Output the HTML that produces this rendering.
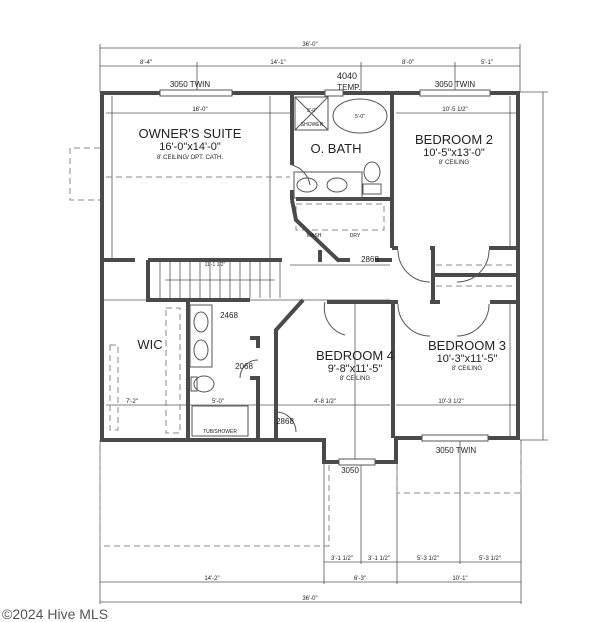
<!DOCTYPE html>
<html><head><style>
html,body{margin:0;padding:0;background:#fff;width:600px;height:622px;overflow:hidden}
svg{display:block}
text{font-family:"Liberation Sans",sans-serif;fill:#222}
</style></head><body>
<svg width="600" height="622" viewBox="0 0 600 622">
<g stroke="#555" stroke-width="0.8" fill="none">
<line x1="100" y1="48" x2="520" y2="48"/>
<line x1="100" y1="66" x2="520" y2="66"/>
<line x1="100" y1="44" x2="100" y2="92"/>
<line x1="520" y1="44" x2="520" y2="92"/>
<line x1="197" y1="62" x2="197" y2="92"/>
<line x1="361" y1="62" x2="361" y2="92"/>
<line x1="455" y1="62" x2="455" y2="92"/>
<line x1="543" y1="92" x2="543" y2="440"/>
<line x1="520" y1="92" x2="548" y2="92"/>
<line x1="520" y1="440" x2="548" y2="440"/>
<line x1="100" y1="440" x2="100" y2="604"/>
<line x1="324" y1="462" x2="324" y2="584"/>
<line x1="361" y1="462" x2="361" y2="564"/>
<line x1="397" y1="440" x2="397" y2="584"/>
<line x1="460" y1="440" x2="460" y2="564"/>
<line x1="521" y1="440" x2="521" y2="604"/>
<line x1="324" y1="562" x2="521" y2="562"/>
<line x1="100" y1="582" x2="521" y2="582"/>
<line x1="100" y1="602" x2="521" y2="602"/>
<line x1="106" y1="113" x2="290" y2="113"/>
<line x1="112" y1="96" x2="112" y2="258"/>
<line x1="270" y1="96" x2="270" y2="258"/>
<line x1="396" y1="113" x2="516" y2="113"/>
<line x1="510" y1="96" x2="510" y2="246"/>
<line x1="106" y1="405" x2="390" y2="405"/>
<line x1="396" y1="405" x2="516" y2="405"/>
<line x1="510" y1="304" x2="510" y2="436"/>
<line x1="355" y1="304" x2="355" y2="460"/>
<line x1="290" y1="265" x2="390" y2="265"/>
<line x1="290" y1="300" x2="390" y2="300"/>
<line x1="100" y1="300" x2="290" y2="300"/>
</g>
<g stroke="#888" stroke-width="1" fill="none" stroke-dasharray="6,4">
<path d="M100 440 V546 H329 V462"/>
<path d="M397 440 V493 H521 V440"/>
<path d="M100 148 H70 V200 H100"/>
<line x1="106" y1="177" x2="290" y2="177"/>
<rect x="166" y="308" width="14" height="125"/>
<rect x="110" y="345" width="8" height="85"/>
<line x1="436" y1="265" x2="514" y2="265"/>
<line x1="436" y1="286" x2="514" y2="286"/>
<rect x="296" y="204" width="88" height="26"/>
</g>
<g stroke="#4a4a4a" stroke-width="4" fill="none" stroke-linejoin="miter">
<path d="M160 93 H102 V440 H324 V462 H396 V438 H518 V93 H490"/>
<path d="M232 93 H325"/>
<path d="M343 93 H420"/>
<line x1="292" y1="93" x2="292" y2="165"/>
<line x1="292" y1="190" x2="292" y2="200"/>
<path d="M292 200 L296 220 L338 260 H350"/>
<line x1="296" y1="199" x2="392" y2="199"/>
<line x1="392" y1="93" x2="392" y2="248"/>
<line x1="375" y1="260" x2="392" y2="260"/>
<line x1="392" y1="248" x2="398" y2="248"/>
<line x1="430" y1="248" x2="435" y2="248"/>
<line x1="489" y1="248" x2="518" y2="248"/>
<line x1="433" y1="248" x2="433" y2="302"/>
<line x1="433" y1="275" x2="518" y2="275"/>
<line x1="430" y1="302" x2="440" y2="302"/>
<line x1="490" y1="302" x2="518" y2="302"/>
<line x1="327" y1="302" x2="398" y2="302"/>
<line x1="393" y1="302" x2="393" y2="438"/>
<line x1="102" y1="260" x2="135" y2="260"/>
<line x1="148" y1="260" x2="282" y2="260"/>
<path d="M148 260 V300 H250"/>
<line x1="188" y1="300" x2="188" y2="440"/>
<path d="M250 338 H258 V348"/>
<path d="M250 378 H258 V440"/>
<path d="M276 440 L276 330 L303 300"/>
<line x1="320" y1="250" x2="320" y2="262"/>
</g>
<g fill="#fff" stroke="#555" stroke-width="1">
<rect x="160" y="90" width="72" height="6"/>
<rect x="325" y="90" width="18" height="6"/>
<rect x="420" y="90" width="70" height="6"/>
<rect x="422" y="435" width="66" height="6"/>
<rect x="339" y="459" width="36" height="6"/>
</g>
<g stroke="#555" stroke-width="0.8">
<line x1="160" y1="262" x2="160" y2="298"/><line x1="170" y1="262" x2="170" y2="298"/>
<line x1="180" y1="262" x2="180" y2="298"/><line x1="190" y1="262" x2="190" y2="298"/>
<line x1="200" y1="262" x2="200" y2="298"/><line x1="210" y1="262" x2="210" y2="298"/>
<line x1="220" y1="262" x2="220" y2="298"/><line x1="230" y1="262" x2="230" y2="298"/>
<line x1="240" y1="262" x2="240" y2="298"/><line x1="250" y1="262" x2="250" y2="298"/>
<line x1="260" y1="262" x2="260" y2="298"/><line x1="270" y1="262" x2="270" y2="298"/>
<line x1="280" y1="262" x2="280" y2="298"/>
<line x1="165" y1="280" x2="275" y2="280"/>
</g>
<g stroke="#555" stroke-width="1" fill="none">
<rect x="295" y="97" width="33" height="33"/>
<line x1="295" y1="97" x2="328" y2="130"/><line x1="328" y1="97" x2="295" y2="130"/>
<ellipse cx="360" cy="116" rx="27" ry="17"/>
<rect x="294" y="172" width="68" height="26"/>
<ellipse cx="307" cy="185" rx="10" ry="7"/><ellipse cx="337" cy="185" rx="10" ry="7"/>
<ellipse cx="372" cy="172" rx="8" ry="10"/><rect x="363" y="184" width="18" height="10"/>
<rect x="190" y="305" width="22" height="62"/>
<ellipse cx="201" cy="322" rx="7" ry="10"/><ellipse cx="201" cy="350" rx="7" ry="10"/>
<ellipse cx="204" cy="384" rx="10" ry="8"/><rect x="191" y="377" width="6" height="14"/>
<rect x="192" y="406" width="56" height="30"/>
<path d="M258 360 A18 18 0 0 0 240 378"/>
<path d="M398 250 A32 32 0 0 0 430 282"/>
<path d="M489 250 A32 32 0 0 1 457 282"/>
<path d="M398 304 A32 32 0 0 0 430 336"/>
<path d="M489 304 A32 32 0 0 1 457 336"/>
<path d="M325 302 A28 28 0 0 0 345 335"/>
<path d="M292 165 A25 25 0 0 1 310 185"/>
<path d="M276 412 A20 20 0 0 1 296 432"/>
</g>
<g text-anchor="middle">
<text x="190" y="138" font-size="13">OWNER'S SUITE</text>
<text x="190" y="150" font-size="11">16'-0"x14'-0"</text>
<text x="190" y="159" font-size="6">8' CEILING/ OPT. CATH.</text>
<text x="336" y="153" font-size="13">O. BATH</text>
<text x="454" y="144" font-size="13">BEDROOM 2</text>
<text x="454" y="156" font-size="11">10'-5"x13'-0"</text>
<text x="454" y="164" font-size="6">8' CEILING</text>
<text x="355" y="360" font-size="13">BEDROOM 4</text>
<text x="355" y="372" font-size="11">9'-8"x11'-5"</text>
<text x="355" y="380" font-size="6">8' CEILING</text>
<text x="467" y="350" font-size="13">BEDROOM 3</text>
<text x="467" y="362" font-size="11">10'-3"x11'-5"</text>
<text x="467" y="370" font-size="6">8' CEILING</text>
<text x="150" y="349" font-size="13">WIC</text>
<text x="310" y="46" font-size="6">36'-0"</text>
<text x="146" y="64" font-size="6">8'-4"</text>
<text x="278" y="64" font-size="6">14'-1"</text>
<text x="408" y="64" font-size="6">8'-0"</text>
<text x="487" y="64" font-size="6">5'-1"</text>
<text x="190" y="87" font-size="8">3050 TWIN</text>
<text x="455" y="87" font-size="8">3050 TWIN</text>
<text x="347" y="79" font-size="9">4040</text>
<text x="349" y="90" font-size="8">TEMP.</text>
<text x="456" y="453" font-size="8">3050 TWIN</text>
<text x="350" y="473" font-size="8">3050</text>
<text x="342" y="560" font-size="6">3'-1 1/2"</text>
<text x="379" y="560" font-size="6">3'-1 1/2"</text>
<text x="428" y="560" font-size="6">5'-3 1/2"</text>
<text x="490" y="560" font-size="6">5'-3 1/2"</text>
<text x="212" y="580" font-size="6">14'-2"</text>
<text x="360" y="580" font-size="6">6'-3"</text>
<text x="460" y="580" font-size="6">10'-1"</text>
<text x="310" y="600" font-size="6">36'-0"</text>
<text x="312" y="112" font-size="5">3'-0"</text>
<text x="312" y="126" font-size="5">SHOWER</text>
<text x="360" y="118" font-size="5">5'-0"</text>
<text x="314" y="237" font-size="5">WASH</text>
<text x="355" y="237" font-size="5">DRY</text>
<text x="370" y="262" font-size="8">2868</text>
<text x="229" y="318" font-size="8">2468</text>
<text x="244" y="369" font-size="8">2068</text>
<text x="285" y="424" font-size="8">2868</text>
<text x="132" y="403" font-size="6">7'-2"</text>
<text x="218" y="403" font-size="6">5'-0"</text>
<text x="325" y="403" font-size="6">4'-8 1/2"</text>
<text x="451" y="403" font-size="6">10'-3 1/2"</text>
<text x="455" y="111" font-size="6">10'-5 1/2"</text>
<text x="200" y="111" font-size="6">16'-0"</text>
<text x="220" y="433" font-size="5">TUB/SHOWER</text>
<text x="215" y="266" font-size="5">11'-1 1/2"</text>
</g>
<text x="2" y="619" font-size="14" style="fill:#555">©2024 Hive MLS</text>
</svg>
</body></html>
